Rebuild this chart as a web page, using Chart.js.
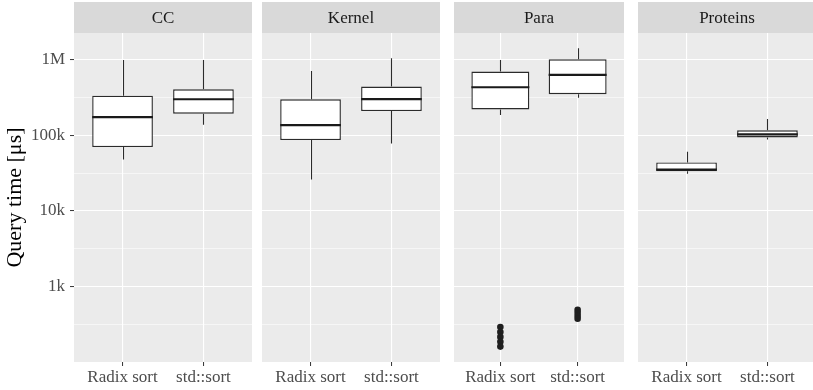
<!DOCTYPE html>
<html>
<head>
<meta charset="utf-8">
<script src="https://cdn.jsdelivr.net/npm/chart.js@4.4.1/dist/chart.umd.min.js"></script>
<style>
  body { margin: 0; background: #fff; width: 813px; height: 390px; overflow: hidden; position: relative; }
  canvas { position: absolute; top: 0; }
</style>
</head>
<body>
<canvas id="p0" width="252" height="390" style="left:0"></canvas>
<canvas id="p1" width="178" height="390" style="left:262px"></canvas>
<canvas id="p2" width="178" height="390" style="left:450px"></canvas>
<canvas id="p3" width="178" height="390" style="left:638px"></canvas>
<script>
// ---- data, per panel: [Radix sort, std::sort] ----
const panels = ['CC', 'Kernel', 'Para', 'Proteins'];
const methods = ['Radix sort', 'std::sort'];

const whiskLo = [[48000, 138000], [26000, 78000], [186000, 316000], [31000, 88600]];
const q1      = [[70000, 194000], [86700, 210000], [221000, 351000], [33600, 94000]];
const med     = [[175000, 301000], [137000, 303000], [434000, 632000], [35200, 103000]];
const q3      = [[336000, 408000], [301000, 443000], [700000, 1020000], [43900, 117000]];
const whiskHi = [[1000000, 1000000], [714000, 1050000], [1000000, 1430000], [60700, 165000]];
const outliers = [
  [[], []],
  [[], []],
  [[290, 250, 215, 185, 160], [490, 450, 410, 375]],
  [[], []]
];

const yTicks = [1000, 10000, 100000, 1000000];
const yTickLabels = ['1k', '10k', '100k', '1M'];
const yMinor = [316, 3162, 31623, 316228];
const yMin = 100, yMax = 2270000;

const FONT = "'Liberation Serif', serif";

// grey panel + strip behind everything
const panelBg = {
  id: 'panelBg',
  beforeDraw(chart) {
    const { ctx, chartArea: a } = chart;
    const stripTop = chart.titleBlock.top;
    ctx.save();
    ctx.fillStyle = '#EBEBEB';
    ctx.fillRect(a.left, a.top, a.right - a.left, a.bottom - a.top);
    ctx.fillStyle = '#D9D9D9';
    ctx.fillRect(a.left, stripTop, a.right - a.left, a.top - stripTop);
    ctx.restore();
  }
};

// whiskers + median, placed with the bar elements and the y scale
const boxParts = {
  id: 'boxParts',
  afterDatasetsDraw(chart) {
    const p = chart.options.plugins.boxParts.panel;
    const y = chart.scales.y;
    const ctx = chart.ctx;
    const bars = chart.getDatasetMeta(0).data;
    ctx.save();
    bars.forEach((bar, i) => {
      const x = Math.round(bar.x) + 0.5;
      ctx.strokeStyle = '#2b2b2b';
      ctx.lineWidth = 1.1;
      ctx.beginPath();
      ctx.moveTo(x, y.getPixelForValue(whiskHi[p][i]));
      ctx.lineTo(x, y.getPixelForValue(q3[p][i]));
      ctx.moveTo(x, y.getPixelForValue(q1[p][i]));
      ctx.lineTo(x, y.getPixelForValue(whiskLo[p][i]));
      ctx.stroke();
      ctx.lineWidth = 2.2;
      ctx.strokeStyle = '#1a1a1a';
      const ym = y.getPixelForValue(med[p][i]);
      ctx.beginPath();
      ctx.moveTo(bar.x - bar.width / 2, ym);
      ctx.lineTo(bar.x + bar.width / 2, ym);
      ctx.stroke();
    });
    ctx.restore();
  }
};

function makePanel(p) {
  const first = p === 0;
  const boxData = methods.map((m, i) => ({ x: i + 1, y: [q1[p][i], q3[p][i]] }));
  const outData = [];
  methods.forEach((m, i) => outliers[p][i].forEach(v => outData.push({ x: i + 1, y: v })));

  return new Chart(document.getElementById('p' + p), {
    type: 'bar',
    data: {
      datasets: [{
        type: 'bar',
        data: boxData,
        backgroundColor: '#ffffff',
        borderColor: '#2b2b2b',
        borderWidth: 1.4,
        borderSkipped: false,
        categoryPercentage: 1,
        barPercentage: 0.75
      }, {
        type: 'line',
        data: outData,
        showLine: false,
        pointRadius: 3.3,
        pointBackgroundColor: '#1f1f1f',
        pointBorderWidth: 0
      }]
    },
    options: {
      responsive: false,
      animation: false,
      layout: { padding: { top: 2, left: 0, right: 0, bottom: 0 } },
      plugins: {
        legend: { display: false },
        tooltip: { enabled: false },
        title: {
          display: true,
          text: panels[p],
          fullSize: false,
          color: '#1A1A1A',
          font: { family: FONT, size: 17, weight: 'normal', lineHeight: 1 },
          padding: { top: 8, bottom: 6 }
        },
        boxParts: { panel: p }
      },
      scales: {
        x: {
          type: 'linear',
          min: 0.4,
          max: 2.6,
          offset: false,
          afterBuildTicks: s => { s.ticks = methods.map((m, i) => ({ value: i + 1 })); },
          afterFit: s => { s.height = 28; },
          ticks: {
            autoSkip: false,
            maxRotation: 0,
            padding: 1,
            color: '#4D4D4D',
            font: { family: FONT, size: 17 },
            callback: v => methods[v - 1]
          },
          grid: { offset: false, color: '#ffffff', lineWidth: 1.1, tickColor: '#333333', tickLength: 4, tickWidth: 1 },
          border: { display: false }
        },
        y: {
          type: 'logarithmic',
          min: yMin,
          max: yMax,
          afterBuildTicks: s => {
            s.ticks = yMinor.concat(yTicks).sort((a, b) => a - b).map(v => ({ value: v }));
          },
          afterFit: s => { s.width = first ? 74 : 0; },
          title: {
            display: first,
            text: 'Query time [μs]',
            color: '#000000',
            font: { family: FONT, size: 22 },
            padding: { top: 2, bottom: 0 }
          },
          ticks: {
            display: first,
            autoSkip: false,
            padding: 5,
            color: '#4D4D4D',
            font: { family: FONT, size: 17 },
            callback: v => {
              const k = yTicks.indexOf(v);
              return k >= 0 ? yTickLabels[k] : '';
            }
          },
          grid: {
            color: '#ffffff',
            lineWidth: c => yTicks.includes(c.tick.value) ? 1.1 : 0.55,
            drawTicks: first,
            tickLength: 4,
            tickWidth: 1,
            tickColor: c => yTicks.includes(c.tick.value) ? '#333333' : 'rgba(0,0,0,0)'
          },
          border: { display: false }
        }
      }
    },
    plugins: [panelBg, boxParts]
  });
}

panels.forEach((name, p) => makePanel(p));
</script>
</body>
</html>
